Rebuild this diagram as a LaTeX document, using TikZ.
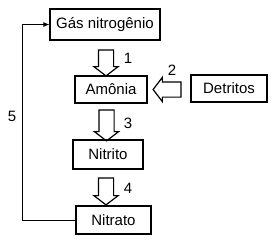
\documentclass[tikz,border=0pt]{standalone}
\usepackage{fontspec}
\setmainfont{Liberation Sans}
\usetikzlibrary{shapes.arrows,arrows.meta}
\begin{document}
\begin{tikzpicture}[x=1pt,y=-1pt,
  box/.style={draw,line width=1.3pt,inner sep=0pt,font=\fontsize{15}{17}\selectfont},
  barrow/.style={draw,line width=1.2pt,single arrow,inner sep=0pt,minimum width=23pt,
     single arrow head extend=4.5pt,single arrow tip angle=105,text width=0pt,text height=7pt,text depth=7pt},
  num/.style={font=\fontsize{15}{17}\selectfont,inner sep=0pt}]
\useasboundingbox (0,0) rectangle (272,241);
\node[box,minimum width=110pt,minimum height=31pt] (gas) at (105,24.5) {Gás nitrogênio};
\node[box,minimum width=72pt,minimum height=27pt] (amo) at (111,89.5) {Amônia};
\node[box,minimum width=76pt,minimum height=27pt] (det) at (229,88.5) {Detritos};
\node[box,minimum width=70pt,minimum height=29pt] (nitrito) at (108,154.5) {Nitrito};
\node[box,minimum width=75pt,minimum height=28pt] (nitrato) at (113.5,220) {Nitrato};
\node[barrow,minimum height=26pt,rotate=-90] (a1) at (106,60) {};
\node[barrow,minimum height=28pt,rotate=180,minimum width=21pt] (a2) at (170,89.5) {};
\node[barrow,minimum height=31pt,rotate=-90] (a3) at (106.5,122.5) {};
\node[barrow,minimum height=27pt,rotate=-90] (a4) at (106,188.5) {};
\node[num] (n1) at (128,58) {1};
\node[num] (n2) at (172,70) {2};
\node[num] (n3) at (128,123) {3};
\node[num] (n4) at (128,188) {4};
\node[num] (n5) at (12,116) {5};
\coordinate (c1) at (22,220);
\coordinate (c2) at (22,24.5);
\draw[line width=0.8pt,-{Latex[length=6pt,width=5pt]}] (nitrato.west) -- (c1) -- (c2) -- (gas.west);
\end{tikzpicture}
\end{document}
